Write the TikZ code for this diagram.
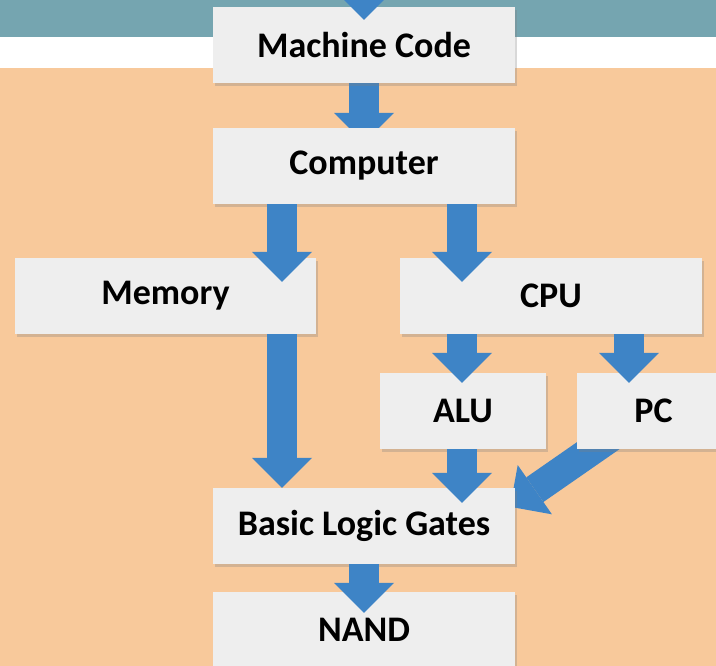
\documentclass[tikz,border=0pt]{standalone}
\usepackage{fontspec}
\setmainfont{Carlito}
\usetikzlibrary{arrows.meta,shadows}
\definecolor{bandteal}{RGB}{117,165,176}
\definecolor{peach}{RGB}{248,201,155}
\definecolor{boxgray}{RGB}{238,238,238}
\definecolor{arrowblue}{RGB}{62,132,198}
\pgfdeclarelayer{back}
\pgfdeclarelayer{behind}
\pgfsetlayers{back,behind,main}
\tikzset{
  box/.style={rectangle,fill=boxgray,inner sep=0pt,minimum height=76pt,
    font=\fontsize{36}{40}\selectfont\bfseries,
    drop shadow={opacity=0.3,shadow xshift=2pt,shadow yshift=-3pt}},
  blockarrow/.style={draw=arrowblue,line width=30pt,
    -{Triangle[width=60pt,length=30pt,line width=0pt]}},
}
\begin{document}
\begin{tikzpicture}[x=1pt,y=-1pt]
      \useasboundingbox (0,0) rectangle (716,666);
      \begin{pgfonlayer}{back}
        \fill[bandteal] (0,0) rectangle (716,37);
        \fill[white] (0,37) rectangle (716,68);
        \fill[peach] (0,68) rectangle (716,666);
      \end{pgfonlayer}

      \node[box,minimum width=302pt] (mc) at (364,45) {Machine Code};
      \node[box,minimum width=302pt] (comp) at (364,166) {Computer};
      \node[box,minimum width=301pt] (mem) at (165.5,296) {Memory};
      \node[box,minimum width=302pt] (cpu) at (551,296) {CPU};
      \node[box,minimum width=166pt] (alu) at (463,411) {ALU};
      \node[box,minimum width=153pt] (pc) at (653.5,411) {PC};
      \node[box,minimum width=302pt] (blg) at (364,526) {Basic Logic Gates};
      \node[box,minimum width=302pt] (nand) at (364,630) {NAND};

      \coordinate (top) at (364,-40);
      \coordinate (colL) at (282,0);
      \coordinate (colM) at (462,0);
      \coordinate (colR) at (629,0);

      \draw[blockarrow] (top) -- ([yshift=-13pt]mc.north);
      \begin{pgfonlayer}{behind}
        \draw[blockarrow] (mc.south) -- ([yshift=-15pt]comp.north);
        \draw[blockarrow] ([shift={(48pt,22pt)}]pc.south west) -- ([shift={(-5pt,-19pt)}]blg.north east);
      \end{pgfonlayer}
      \draw[blockarrow] (colL |- comp.south) -- ([yshift=-24pt]colL |- mem.north);
      \draw[blockarrow] (colM |- comp.south) -- ([yshift=-24pt]colM |- cpu.north);
      \draw[blockarrow] (colL |- mem.south) -- (colL |- blg.north);
      \draw[blockarrow] (colM |- cpu.south) -- ([yshift=-10pt]colM |- alu.north);
      \draw[blockarrow] (colR |- cpu.south) -- ([yshift=-10pt]colR |- pc.north);
      \draw[blockarrow] (colM |- alu.south) -- ([yshift=-15pt]colM |- blg.north);
      \draw[blockarrow] (blg.south) -- ([yshift=-21pt]nand.north);
    \end{tikzpicture}
\end{document}
